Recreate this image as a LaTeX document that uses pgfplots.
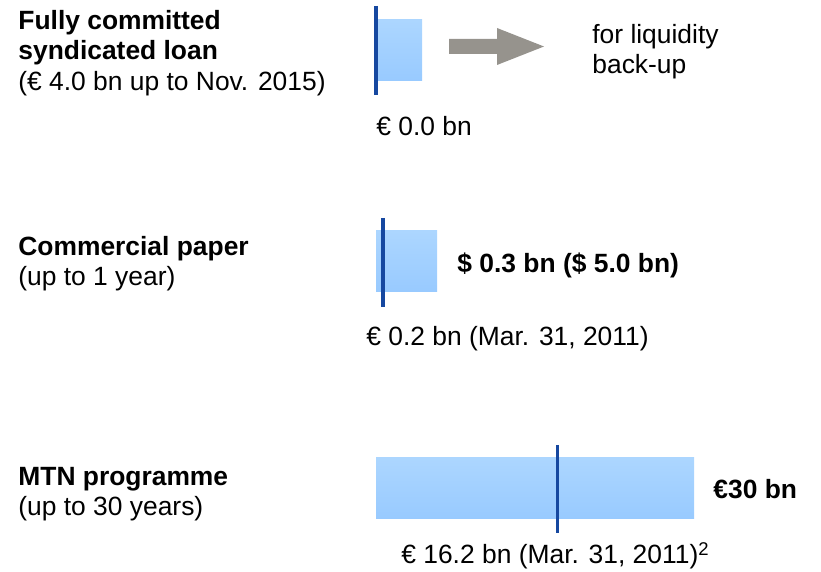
\documentclass[border=0pt]{standalone}
\usepackage{pgfplots}
\pgfplotsset{compat=1.18}
\usepackage{fontspec}
\setmainfont{Liberation Sans}

\definecolor{barTop}{RGB}{172,214,255}
\definecolor{barBot}{RGB}{152,202,255}
\definecolor{useLine}{RGB}{22,72,160}
\definecolor{arrowGray}{RGB}{150,147,141}

\tikzset{lbl/.style={font=\fontsize{13.2}{15}\selectfont,inner sep=0pt,anchor=base west}}

\begin{document}
\begin{tikzpicture}
% 1 unit = 1 px of the reference, y grows downwards
\begin{axis}[
  width=410.5pt,height=286pt,scale only axis,
  xmin=0,xmax=821,ymin=0,ymax=572,y dir=reverse,
  hide axis,clip=false]
  \path (axis cs:0,0) rectangle (axis cs:821,572);

  % ---------- facility bars (programme size) ----------
  \addplot[draw=none,top color=barTop,bottom color=barBot]
    coordinates {(377,20)(422,20)(422,81)(377,81)} --cycle;
  \addplot[draw=none,top color=barTop,bottom color=barBot]
    coordinates {(376,231)(437,231)(437,292)(376,292)} --cycle;
  \addplot[draw=none,top color=barTop,bottom color=barBot]
    coordinates {(376,458)(694,458)(694,519)(376,519)} --cycle;

  % ---------- utilisation markers ----------
  \addplot[useLine,line width=1.8pt] coordinates {(376,6)(376,95)};
  \addplot[useLine,line width=1.8pt] coordinates {(383,218)(383,307)};
  \addplot[useLine,line width=1.8pt] coordinates {(557.5,445)(557.5,533)};

  % ---------- arrow ----------
  \addplot[draw=none,fill=arrowGray]
    coordinates {(449,39)(497,39)(497,28)(544,46.5)(497,65)(497,54)(449,54)} --cycle;

  % ---------- left labels ----------
  \node[lbl] at (axis cs:18,30) {\bfseries Fully committed};
  \node[lbl] at (axis cs:18,60) {\bfseries syndicated loan};
  \node[lbl] at (axis cs:18,91) {(€ 4.0 bn up to Nov. 2015)};
  \node[lbl] at (axis cs:18,256) {\bfseries Commercial paper};
  \node[lbl] at (axis cs:18,286) {(up to 1 year)};
  \node[lbl] at (axis cs:18,486) {\bfseries MTN programme};
  \node[lbl] at (axis cs:18,516) {(up to 30 years)};

  % ---------- value labels ----------
  \node[lbl] at (axis cs:592,44) {for liquidity};
  \node[lbl] at (axis cs:592,74) {back-up};
  \node[lbl] at (axis cs:376,136) {€ 0.0 bn};
  \node[lbl] at (axis cs:457,273) {\bfseries \$ 0.3 bn (\$ 5.0 bn)};
  \node[lbl] at (axis cs:366,346) {€ 0.2 bn (Mar. 31, 2011)};
  \node[lbl] at (axis cs:713,499) {\bfseries €30 bn};
  \node[lbl] at (axis cs:401,564) {€ 16.2 bn (Mar. 31, 2011)\textsuperscript{2}};
\end{axis}
\end{tikzpicture}
\end{document}
